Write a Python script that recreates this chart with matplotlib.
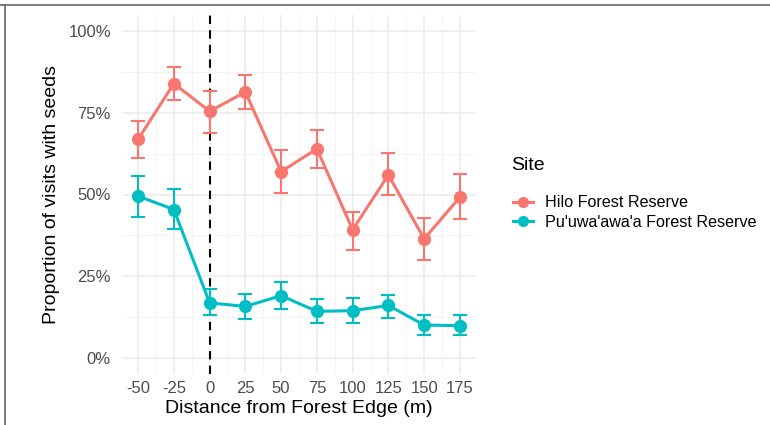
import matplotlib.pyplot as plt
from matplotlib.lines import Line2D
from matplotlib.ticker import FuncFormatter, MultipleLocator

plt.rcParams['font.family'] = ['Liberation Sans', 'DejaVu Sans']
plt.rcParams['axes.unicode_minus'] = False

# distance from forest edge (m)
distance = [-50, -25, 0, 25, 50, 75, 100, 125, 150, 175]

# proportion of visits with seeds, with lower / upper error bars
hilo = [0.669, 0.840, 0.755, 0.814, 0.570, 0.640, 0.392, 0.560, 0.364, 0.492]
hilo_lo = [0.613, 0.790, 0.687, 0.763, 0.505, 0.580, 0.329, 0.497, 0.298, 0.425]
hilo_hi = [0.724, 0.890, 0.816, 0.865, 0.636, 0.698, 0.447, 0.627, 0.427, 0.562]

puu = [0.495, 0.454, 0.168, 0.157, 0.190, 0.142, 0.144, 0.160, 0.100, 0.098]
puu_lo = [0.431, 0.393, 0.130, 0.118, 0.149, 0.106, 0.106, 0.121, 0.068, 0.068]
puu_hi = [0.558, 0.517, 0.209, 0.194, 0.231, 0.181, 0.183, 0.193, 0.132, 0.130]

sites = ['Hilo Forest Reserve', "Pu'uwa'awa'a Forest Reserve"]
colors = ['#F8766D', '#00BFC4']

fig = plt.figure(figsize=(7.7, 4.25), dpi=100)
ax = fig.add_axes([122 / 770, 51 / 425, 354 / 770, 359 / 425])

for vals, lo, hi, col in [(hilo, hilo_lo, hilo_hi, colors[0]), (puu, puu_lo, puu_hi, colors[1])]:
    err = [[v - l for v, l in zip(vals, lo)], [h - v for v, h in zip(vals, hi)]]
    ax.errorbar(distance, vals, yerr=err, color=col, fmt='none', elinewidth=1.5,
                capsize=5, capthick=1.5, zorder=3)
    ax.plot(distance, vals, color=col, lw=2.2, marker='o', markersize=8.5, zorder=4)

ax.axvline(0, color='black', ls=(0, (4, 3)), lw=1.5, zorder=2.5)

# ggplot-like minimal theme
ax.set_xlim(-61.25, 186.25)
ax.set_ylim(-0.05, 1.05)
ax.xaxis.set_major_locator(MultipleLocator(25))
ax.xaxis.set_minor_locator(MultipleLocator(12.5))
ax.yaxis.set_major_locator(MultipleLocator(0.25))
ax.yaxis.set_minor_locator(MultipleLocator(0.125))
ax.yaxis.set_major_formatter(FuncFormatter(lambda v, p: f'{v * 100:.0f}%'))
ax.grid(which='major', color='#EBEBEB', lw=1.1)
ax.grid(which='minor', color='#F3F3F3', lw=0.6)
ax.set_axisbelow(True)
for s in ax.spines.values():
    s.set_visible(False)
ax.tick_params(which='both', length=0, labelsize=12, labelcolor='#4D4D4D')
ax.tick_params(axis='y', pad=8)
ax.tick_params(axis='x', pad=5)

ax.set_xlabel('Distance from Forest Edge (m)', fontsize=14, labelpad=3)
ax.set_ylabel('Proportion of visits with seeds', fontsize=14, labelpad=6)

# legend: title drawn separately to get the ggplot spacing
fig.text(511 / 770, 1 - 166 / 425, 'Site', fontsize=14, va='center', ha='left')
handles = [Line2D([], [], color=c, lw=2.2, marker='o', markersize=7) for c in colors]
leg = fig.legend(handles, sites, loc='upper left', bbox_to_anchor=(502 / 770, 1 - 184 / 425),
                 frameon=False, fontsize=11.6, handlelength=1.25, handletextpad=0.75,
                 labelspacing=0.28, borderpad=0.2)

# thin border at top and left of the image
fig.add_artist(Line2D([0, 1], [1 - 5 / 425, 1 - 5 / 425], color='#666666', lw=1.2))
fig.add_artist(Line2D([5 / 770, 5 / 770], [0, 1 - 5 / 425], color='#666666', lw=1.2))

fig.savefig('out.png', dpi=100)
